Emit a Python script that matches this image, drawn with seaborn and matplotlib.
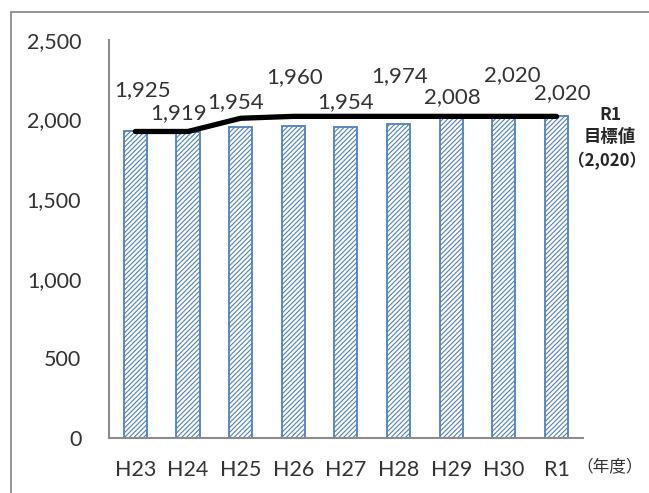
import numpy as np
import pandas as pd
import seaborn as sns
import matplotlib.pyplot as plt
from matplotlib.patches import Rectangle

# data
years = ["H23", "H24", "H25", "H26", "H27", "H28", "H29", "H30", "R1"]
actual = [1925, 1919, 1954, 1960, 1954, 1974, 2008, 2020, 2020]
target = [1925, 1925, 2008, 2020, 2020, 2020, 2020, 2020, 2020]
# label lift above bar top (points) - staggered like the original
label_lift = [30, 14, 18, 35, 18, 34, 15, 30, 17]
label_dx = [5, -7, -4, 1, 0, 1, 1, 6, 4]

df = pd.DataFrame({"year": years, "actual": actual, "target": target})

sns.set_theme(style="white")
plt.rcParams["font.family"] = ["Lato", "Noto Sans CJK JP", "DejaVu Sans"]
plt.rcParams["hatch.color"] = "#6a92cc"
plt.rcParams["hatch.linewidth"] = 0.8

fig = plt.figure(figsize=(6.49, 4.93), dpi=100)
ax = fig.add_axes([0.168, 0.1116, 0.730, 0.8074])

sns.barplot(data=df, x="year", y="actual", color="white", width=0.44,
            edgecolor="#4f81bd", linewidth=1.3, ax=ax)
for p in ax.patches:
    p.set_hatch("///////")
    p.set_facecolor("white")

sns.lineplot(x=np.arange(len(years)), y=df["target"], color="black",
             linewidth=3.8, ax=ax, zorder=5)

for i, v in enumerate(actual):
    ax.annotate(f"{v:,}", (i, v), xytext=(label_dx[i], label_lift[i]),
                textcoords="offset points", ha="center", va="center",
                fontsize=16, color="#333333")

ax.set_xlim(-0.5, 8.5)
ax.set_ylim(0, 2500)
ax.set_yticks(range(0, 2501, 500))
ax.yaxis.set_major_formatter(plt.FuncFormatter(lambda v, _: f"{int(v):,}"))
ax.tick_params(axis="y", labelsize=15.5, colors="#333333", pad=20, length=0)
ax.tick_params(axis="x", labelsize=15.5, colors="#333333", pad=16, length=0)
ax.set_xlabel("")
ax.set_ylabel("")
sns.despine(ax=ax)
for s in ["left", "bottom"]:
    ax.spines[s].set_color("#8c8c8c")
    ax.spines[s].set_linewidth(1.5)

# target note on the right
note_font = ["Noto Sans CJK JP"]
fig.text(0.94, 0.767, "R1", ha="center", va="center", fontsize=12.5,
         fontweight="bold", family=note_font)
fig.text(0.94, 0.722, "目標値", ha="center", va="center", fontsize=12.5,
         fontweight="bold", family=note_font)
fig.text(0.935, 0.674, "（2,020）", ha="center", va="center", fontsize=12,
         fontweight="bold", family=note_font)
fig.text(0.94, 0.052, "（年度）", ha="center", va="center", fontsize=12,
         color="#333333", family=note_font)

# outer frame (left and top visible)
fig.patches.append(Rectangle((0.017, -0.05), 1.1, 1.025, transform=fig.transFigure,
                             fill=False, edgecolor="#8c8c8c", linewidth=1.3))

fig.savefig("out.png", dpi=100)
